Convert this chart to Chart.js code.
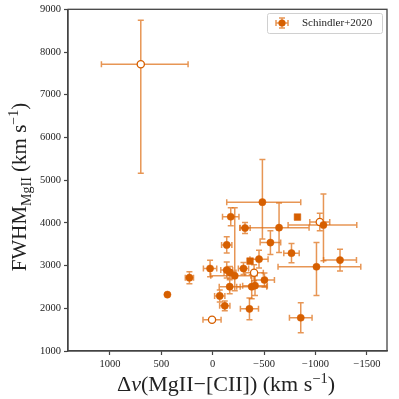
<!DOCTYPE html>
<html><head><meta charset="utf-8">
<script src="https://cdn.jsdelivr.net/npm/chart.js@4"></script>
<style>html,body{margin:0;padding:0;background:#fff}#c{display:block}</style>
</head><body>
<div style="width:399px;height:399px"><canvas id="c" width="399" height="399"></canvas></div>
<script>
// Velocity offset Δv(MgII-[CII]) in km/s
const dv         = [700, -483, -175, -314, -645, -561, -136, -363, -450, 26, -136, -168, -214, -299, -402, 227, -503, 441, -165, -379, -411, -68, -117, -357, 7, -824, -1041, -1077, -766, -1238, -1009, -856];
const fwhm       = [7714, 4485, 4143, 3880, 3887, 3538, 3484, 3105, 3151, 2932, 2895, 2839, 2762, 2932, 2832, 2716, 2662, 2320, 2506, 2506, 2530, 2290, 2057, 1987, 1731, 4136, 4019, 3950, 3291, 3128, 2972, 1778];
// error bars (data units): "minus" = toward lower value, "plus" = toward higher value
const dvErrMinus   = [460, 373, 80, 50, 292, 100, 50, 0, 88, 65, 58, 58, 156, 50, 90, 40, 97, 0, 102, 146, 120, 50, 50, 88, 88, 0, 97, 324, 75, 160, 431, 110];
const dvErrPlus    = [383, 347, 80, 50, 379, 100, 50, 0, 88, 65, 58, 58, 233, 50, 90, 40, 97, 0, 102, 146, 120, 50, 50, 88, 88, 0, 97, 344, 75, 160, 374, 110];
const fwhmErrMinus = [2555, 860, 210, 130, 580, 280, 190, 0, 210, 195, 186, 140, 354, 140, 186, 140, 163, 0, 163, 280, 230, 140, 116, 256, 50, 0, 205, 839, 226, 256, 675, 350];
const fwhmErrPlus  = [1030, 1000, 210, 130, 580, 280, 190, 0, 210, 195, 186, 140, 1590, 140, 186, 140, 163, 0, 163, 280, 230, 140, 116, 256, 50, 0, 205, 728, 226, 256, 566, 350];
const openMarker   = [true, false, false, false, false, false, false, false, false, false, false, false, false, false, true, false, false, false, false, false, false, false, false, false, true, false, true, false, false, false, false, false];
const squareMarker = [false, false, false, false, false, false, false, true, false, false, false, false, false, false, false, false, false, false, false, false, false, false, false, false, false, true, false, false, false, false, false, false];
const xTicks = [1000, 500, 0, -500, -1000, -1500];
const yTicks = [1000, 2000, 3000, 4000, 5000, 6000, 7000, 8000, 9000];
const seriesName = 'Schindler+2020';

const MAIN = '#d65f00';
const ERR = 'rgba(222,110,20,0.72)';
const SERIF = '"Liberation Serif", "DejaVu Serif", serif';

const points = dv.map((x, i) => ({x: x, y: fwhm[i]}));

const errorBarPlugin = {
  id: 'errbars',
  beforeDatasetsDraw(chart) {
    const ctx = chart.ctx, xs = chart.scales.x, ys = chart.scales.y;
    const cap = 3;
    ctx.save();
    ctx.strokeStyle = ERR; ctx.lineWidth = 1.5;
    for (let i = 0; i < dv.length; i++) {
      const px = xs.getPixelForValue(dv[i]), py = ys.getPixelForValue(fwhm[i]);
      if (dvErrMinus[i] || dvErrPlus[i]) {
        const a = xs.getPixelForValue(dv[i] - dvErrMinus[i]);
        const b = xs.getPixelForValue(dv[i] + dvErrPlus[i]);
        ctx.beginPath();
        ctx.moveTo(a, py); ctx.lineTo(b, py);
        ctx.moveTo(a, py - cap); ctx.lineTo(a, py + cap);
        ctx.moveTo(b, py - cap); ctx.lineTo(b, py + cap);
        ctx.stroke();
      }
      if (fwhmErrMinus[i] || fwhmErrPlus[i]) {
        const a = ys.getPixelForValue(fwhm[i] - fwhmErrMinus[i]);
        const b = ys.getPixelForValue(fwhm[i] + fwhmErrPlus[i]);
        ctx.beginPath();
        ctx.moveTo(px, a); ctx.lineTo(px, b);
        ctx.moveTo(px - cap, a); ctx.lineTo(px + cap, a);
        ctx.moveTo(px - cap, b); ctx.lineTo(px + cap, b);
        ctx.stroke();
      }
    }
    ctx.restore();
  },
  afterDraw(chart) {
    const ctx = chart.ctx, a = chart.chartArea;
    ctx.save();
    // frame
    ctx.strokeStyle = '#444'; ctx.lineWidth = 1.3;
    ctx.strokeRect(a.left, a.top, a.right - a.left, a.bottom - a.top);

    // rich text helper
    function drawRich(segs, cx, cy) {
      let w = 0;
      segs.forEach(s => { ctx.font = s.f; s.w = ctx.measureText(s.t).width; w += s.w; });
      let x = cx - w / 2;
      ctx.fillStyle = '#222'; ctx.textBaseline = 'alphabetic'; ctx.textAlign = 'left';
      segs.forEach(s => { ctx.font = s.f; ctx.fillText(s.t, x, cy + (s.dy || 0)); x += s.w; });
    }
    const bigX = '22px ' + SERIF, bigXI = 'italic 22px ' + SERIF, smallX = '14.5px ' + SERIF;
    const big = '21px ' + SERIF, small = '14px ' + SERIF;
    // x title
    drawRich([
      {t: 'Δ', f: bigX}, {t: 'v', f: bigXI}, {t: '(MgII−[CII]) (km s', f: bigX},
      {t: '−1', f: smallX, dy: -8}, {t: ')', f: bigX}
    ], 226, 391);
    // y title
    ctx.save();
    ctx.translate(26, 187); ctx.rotate(-Math.PI / 2);
    drawRich([
      {t: 'FWHM', f: big}, {t: 'MgII', f: small, dy: 5}, {t: ' (km s', f: big},
      {t: '−1', f: small, dy: -8}, {t: ')', f: big}
    ], 0, 0);
    ctx.restore();

    // legend
    const lx = 267, ly = 13, lw = 115, lh = 20;
    ctx.fillStyle = 'rgba(255,255,255,0.85)';
    ctx.strokeStyle = '#d0d0d0'; ctx.lineWidth = 1;
    ctx.beginPath();
    if (ctx.roundRect) ctx.roundRect(lx + 0.5, ly + 0.5, lw, lh, 2); else ctx.rect(lx + 0.5, ly + 0.5, lw, lh);
    ctx.fill(); ctx.stroke();
    const mx = 282, my = 23;
    ctx.strokeStyle = ERR; ctx.lineWidth = 1.5;
    ctx.beginPath();
    ctx.moveTo(mx - 6, my); ctx.lineTo(mx + 6, my);
    ctx.moveTo(mx - 6, my - 3); ctx.lineTo(mx - 6, my + 3);
    ctx.moveTo(mx + 6, my - 3); ctx.lineTo(mx + 6, my + 3);
    ctx.moveTo(mx, my - 5); ctx.lineTo(mx, my + 5);
    ctx.moveTo(mx - 3, my - 5); ctx.lineTo(mx + 3, my - 5);
    ctx.moveTo(mx - 3, my + 5); ctx.lineTo(mx + 3, my + 5);
    ctx.stroke();
    ctx.fillStyle = MAIN;
    ctx.beginPath(); ctx.arc(mx, my, 3.6, 0, Math.PI * 2); ctx.fill();
    ctx.fillStyle = '#222'; ctx.font = '11px ' + SERIF; ctx.textBaseline = 'middle'; ctx.textAlign = 'left';
    ctx.fillText(seriesName, 302, my + 0.5);
    ctx.restore();
  }
};

new Chart(document.getElementById('c'), {
  type: 'scatter',
  data: {
    datasets: [{
      label: seriesName,
      data: points,
      pointRadius: squareMarker.map(s => s ? 4.7 : 3.6),
      pointHoverRadius: squareMarker.map(s => s ? 4.7 : 3.6),
      pointStyle: squareMarker.map(s => s ? 'rect' : 'circle'),
      pointBackgroundColor: openMarker.map(o => o ? '#ffffff' : MAIN),
      pointBorderColor: MAIN,
      pointBorderWidth: openMarker.map(o => o ? 1.3 : 0.5)
    }]
  },
  options: {
    responsive: false,
    animation: false,
    events: [],
    layout: {padding: {left: 0, right: 12, top: 7, bottom: 0}},
    plugins: {legend: {display: false}, tooltip: {enabled: false}},
    scales: {
      x: {
        type: 'linear', reverse: true, min: -1695, max: 1408,
        afterBuildTicks: s => { s.ticks = xTicks.map(v => ({value: v})); },
        afterFit: s => { s.height = 48; },
        grid: {drawOnChartArea: false, drawTicks: true, tickLength: 4, tickColor: '#444', tickWidth: 1.2},
        border: {display: true, color: '#444', width: 1.3},
        ticks: {color: '#222', font: {family: SERIF, size: 10.5}, padding: 3, maxRotation: 0,
                callback: v => (v < 0 ? '−' + Math.abs(v) : String(v))}
      },
      y: {
        type: 'linear', min: 1000, max: 9000,
        afterBuildTicks: s => { s.ticks = yTicks.map(v => ({value: v})); },
        afterFit: s => { s.width = 68; },
        grid: {drawOnChartArea: false, drawTicks: true, tickLength: 4, tickColor: '#444', tickWidth: 1.2},
        border: {display: true, color: '#444', width: 1.3},
        ticks: {color: '#222', font: {family: SERIF, size: 10.5}, padding: 3, callback: v => String(v)}
      }
    }
  },
  plugins: [errorBarPlugin]
});
</script>
</body></html>
